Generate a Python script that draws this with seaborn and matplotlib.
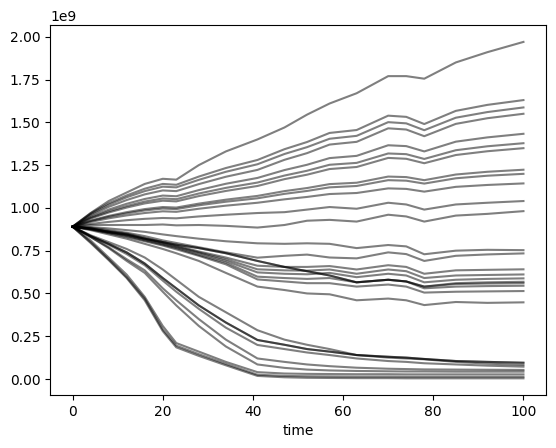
import matplotlib
matplotlib.use("Agg")
import matplotlib.pyplot as plt
import pandas as pd
import seaborn as sns

# time points
time = [0, 4, 8, 12, 16, 20, 23, 28, 34, 41, 47, 52, 57, 63, 70, 74, 78, 85, 92, 100]

# simulated trajectories, values in units of 1e9
# upper group (growing)
u01 = [0.89, 0.97, 1.04, 1.09, 1.14, 1.17, 1.165, 1.25, 1.33, 1.40, 1.47, 1.545, 1.61, 1.67, 1.77, 1.77, 1.755, 1.85, 1.91, 1.97]
u02 = [0.89, 0.968, 1.027, 1.073, 1.112, 1.140, 1.135, 1.183, 1.233, 1.28, 1.343, 1.385, 1.438, 1.455, 1.539, 1.532, 1.49, 1.567, 1.602, 1.63]
u03 = [0.89, 0.963, 1.018, 1.062, 1.098, 1.124, 1.120, 1.164, 1.211, 1.255, 1.315, 1.355, 1.404, 1.421, 1.501, 1.494, 1.454, 1.527, 1.560, 1.587]
u04 = [0.89, 0.956, 1.006, 1.046, 1.079, 1.102, 1.098, 1.139, 1.182, 1.222, 1.281, 1.320, 1.370, 1.386, 1.465, 1.458, 1.419, 1.491, 1.524, 1.55]
u05 = [0.89, 0.947, 0.990, 1.024, 1.052, 1.072, 1.068, 1.104, 1.141, 1.175, 1.221, 1.252, 1.291, 1.304, 1.366, 1.361, 1.330, 1.387, 1.412, 1.433]
u06 = [0.89, 0.942, 0.980, 1.011, 1.037, 1.055, 1.051, 1.084, 1.117, 1.148, 1.189, 1.217, 1.252, 1.263, 1.318, 1.314, 1.286, 1.337, 1.360, 1.378]
u07 = [0.89, 0.938, 0.973, 1.002, 1.026, 1.042, 1.038, 1.069, 1.099, 1.128, 1.168, 1.194, 1.227, 1.239, 1.292, 1.287, 1.261, 1.309, 1.331, 1.349]
u08 = [0.89, 0.926, 0.953, 0.975, 0.993, 1.005, 1.002, 1.025, 1.048, 1.07, 1.098, 1.116, 1.139, 1.147, 1.183, 1.180, 1.162, 1.195, 1.211, 1.223]
u09 = [0.89, 0.923, 0.948, 0.968, 0.985, 0.996, 0.993, 1.015, 1.036, 1.056, 1.082, 1.099, 1.120, 1.128, 1.162, 1.159, 1.142, 1.173, 1.188, 1.199]
u10 = [0.89, 0.918, 0.939, 0.956, 0.970, 0.980, 0.977, 0.995, 1.013, 1.03, 1.050, 1.064, 1.081, 1.087, 1.114, 1.111, 1.095, 1.123, 1.134, 1.143]
u11 = [0.89, 0.906, 0.918, 0.928, 0.936, 0.941, 0.939, 0.950, 0.960, 0.97, 0.975, 0.99, 1.005, 0.995, 1.03, 1.02, 0.99, 1.02, 1.03, 1.04]
u12 = [0.89, 0.90, 0.90, 0.90, 0.90, 0.903, 0.898, 0.90, 0.895, 0.885, 0.90, 0.925, 0.93, 0.92, 0.96, 0.95, 0.92, 0.955, 0.965, 0.981]

# middle group (settling)
m01 = [0.89, 0.888, 0.88, 0.87, 0.86, 0.845, 0.835, 0.82, 0.805, 0.793, 0.79, 0.793, 0.79, 0.765, 0.783, 0.775, 0.729, 0.75, 0.755, 0.753]
m02 = [0.89, 0.885, 0.87, 0.855, 0.835, 0.81, 0.795, 0.77, 0.74, 0.709, 0.72, 0.727, 0.71, 0.705, 0.74, 0.73, 0.69, 0.72, 0.728, 0.734]
m03 = [0.89, 0.88, 0.86, 0.845, 0.82, 0.80, 0.785, 0.765, 0.735, 0.69, 0.655, 0.63, 0.605, 0.565, 0.58, 0.57, 0.54, 0.56, 0.565, 0.568]
m04 = [0.89, 0.88, 0.86, 0.845, 0.82, 0.80, 0.785, 0.765, 0.735, 0.69, 0.655, 0.63, 0.605, 0.565, 0.58, 0.57, 0.54, 0.555, 0.558, 0.56]
m05 = [0.89, 0.88, 0.865, 0.85, 0.825, 0.80, 0.78, 0.745, 0.71, 0.662, 0.655, 0.655, 0.66, 0.64, 0.665, 0.655, 0.615, 0.635, 0.638, 0.641]
m06 = [0.89, 0.878, 0.86, 0.843, 0.82, 0.795, 0.775, 0.74, 0.70, 0.641, 0.635, 0.633, 0.64, 0.615, 0.64, 0.63, 0.59, 0.605, 0.608, 0.611]
m07 = [0.89, 0.876, 0.857, 0.84, 0.815, 0.79, 0.77, 0.735, 0.69, 0.623, 0.615, 0.612, 0.62, 0.595, 0.615, 0.605, 0.565, 0.58, 0.585, 0.588]
m08 = [0.89, 0.875, 0.855, 0.835, 0.81, 0.785, 0.765, 0.725, 0.68, 0.598, 0.59, 0.585, 0.59, 0.565, 0.58, 0.57, 0.53, 0.54, 0.543, 0.545]
m09 = [0.89, 0.874, 0.852, 0.83, 0.805, 0.78, 0.758, 0.72, 0.67, 0.582, 0.57, 0.56, 0.56, 0.54, 0.552, 0.54, 0.505, 0.51, 0.512, 0.514]
m10 = [0.89, 0.87, 0.845, 0.82, 0.79, 0.76, 0.735, 0.69, 0.62, 0.54, 0.52, 0.50, 0.495, 0.46, 0.47, 0.46, 0.432, 0.45, 0.445, 0.448]

# lower group (collapsing)
l01 = [0.89, 0.84, 0.80, 0.76, 0.71, 0.64, 0.58, 0.48, 0.39, 0.285, 0.23, 0.20, 0.175, 0.14, 0.125, 0.12, 0.115, 0.10, 0.09, 0.082]
l02 = [0.89, 0.835, 0.79, 0.74, 0.675, 0.59, 0.53, 0.43, 0.33, 0.228, 0.20, 0.175, 0.16, 0.14, 0.13, 0.125, 0.117, 0.105, 0.10, 0.095]
l03 = [0.89, 0.835, 0.79, 0.74, 0.675, 0.59, 0.53, 0.43, 0.33, 0.228, 0.20, 0.175, 0.16, 0.14, 0.13, 0.125, 0.117, 0.105, 0.10, 0.095]
l04 = [0.89, 0.835, 0.785, 0.73, 0.665, 0.575, 0.51, 0.41, 0.30, 0.199, 0.175, 0.155, 0.14, 0.12, 0.105, 0.10, 0.092, 0.085, 0.078, 0.072]
l05 = [0.89, 0.83, 0.77, 0.70, 0.635, 0.53, 0.46, 0.35, 0.23, 0.12, 0.10, 0.085, 0.075, 0.066, 0.06, 0.058, 0.056, 0.055, 0.054, 0.053]
l06 = [0.89, 0.83, 0.765, 0.69, 0.62, 0.51, 0.43, 0.31, 0.19, 0.085, 0.065, 0.055, 0.05, 0.047, 0.045, 0.044, 0.044, 0.043, 0.043, 0.043]
b01 = [0.89, 0.81, 0.71, 0.61, 0.48, 0.31, 0.21, 0.16, 0.10, 0.04, 0.032, 0.03, 0.029, 0.028, 0.028, 0.027, 0.027, 0.027, 0.027, 0.027]
b02 = [0.89, 0.80, 0.70, 0.595, 0.47, 0.29, 0.195, 0.145, 0.088, 0.025, 0.018, 0.016, 0.015, 0.014, 0.014, 0.013, 0.013, 0.013, 0.013, 0.013]
b03 = [0.89, 0.795, 0.695, 0.59, 0.46, 0.28, 0.185, 0.135, 0.08, 0.018, 0.01, 0.007, 0.006, 0.005, 0.005, 0.004, 0.004, 0.004, 0.004, 0.004]

runs = [u01, u02, u03, u04, u05, u06, u07, u08, u09, u10, u11, u12,
        m01, m02, m03, m04, m05, m06, m07, m08, m09, m10,
        l01, l02, l03, l04, l05, l06, b01, b02, b03]

rows = []
for i, run in enumerate(runs):
    for t, v in zip(time, run):
        rows.append({"run": i, "time": t, "value": v * 1e9})
df = pd.DataFrame(rows)

fig, ax = plt.subplots(figsize=(5.56, 4.48), dpi=100)
sns.lineplot(data=df, x="time", y="value", units="run", estimator=None,
             color="black", alpha=0.5, linewidth=1.5, ax=ax)
ax.set_ylabel("")
ax.set_xlabel("time")
fig.subplots_adjust(left=0.09, right=0.982, top=0.944, bottom=0.118)
fig.savefig("out.png", dpi=100)
plt.close(fig)
